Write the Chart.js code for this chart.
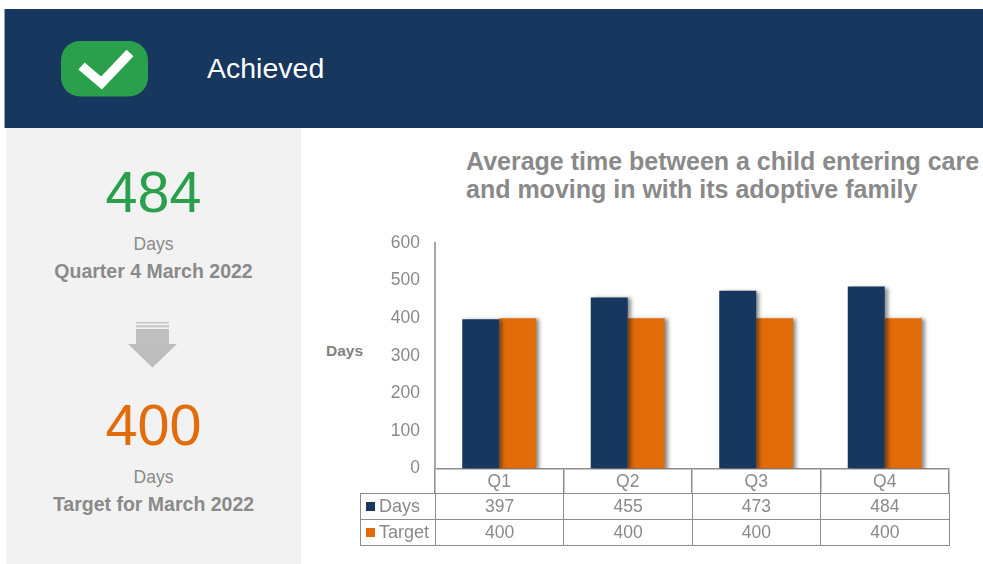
<!DOCTYPE html>
<html>
<head>
<meta charset="utf-8">
<script src="https://cdn.jsdelivr.net/npm/chart.js@4"></script>
<style>
  html, body { margin: 0; padding: 0; background: #fff; }
  body { width: 983px; height: 564px; overflow: hidden; position: relative; font-family: "Liberation Sans", Arial, sans-serif; }
  .abs { position: absolute; }
  #header { left: 4px; top: 9px; width: 979px; height: 119px; background: #17375e; border-left: 1px solid #8fa3bd; box-sizing: border-box; }
  #panel { left: 6px; top: 128px; width: 295px; height: 436px; background: #f2f2f2; }
  #achieved { left: 207px; top: 51px; font-size: 28.5px; line-height: 34px; color: #fff; }
  .ctr { left: 6px; width: 295px; text-align: center; white-space: nowrap; }
  .big { font-size: 57.5px; line-height: 64px; }
  .small { font-size: 17.5px; line-height: 20px; color: #8a8a8a; }
  .bold { font-size: 19.5px; line-height: 22px; font-weight: bold; color: #8a8a8a; }
  #title { left: 466px; top: 147px; font-size: 25px; line-height: 28px; font-weight: bold; color: #8a8a8a; white-space: nowrap; }
  #ytitle { left: 326px; top: 342px; font-size: 15.5px; line-height: 18px; font-weight: bold; color: #808080; }
  #wrap { left: 0; top: 0; width: 983px; height: 564px; }
  #tbl { left: 360px; top: 493px; border-collapse: collapse; table-layout: fixed; width: 589.5px; color: #8a8a8a; font-size: 17.5px; }
  #tbl tr { height: 26px; }
  #tbl td { border: 1.5px solid #8c8c8c; padding: 0 0 2px 0; text-align: center; line-height: 18px; box-sizing: border-box; }
  #tbl td.k { text-align: left; white-space: nowrap; width: 75px; padding-left: 5px; font-size: 18px; }
  #tbl .sw { display: inline-block; width: 9px; height: 9px; margin-right: 4px; vertical-align: 1px; }
</style>
</head>
<body>
<div class="abs" id="panel"></div>
<div class="abs" id="header"></div>
<svg class="abs" style="left:61px;top:41px" width="88" height="56" viewBox="0 0 88 56">
  <rect x="0" y="0" width="87" height="55.5" rx="19" fill="#2aa04c"/>
  <path d="M20.5 25 L40.5 42 L69 12" fill="none" stroke="#fff" stroke-width="9.5"/>
</svg>
<div class="abs" id="achieved">Achieved</div>

<div class="abs ctr big" id="v1" style="top:160px;color:#2aa04c"></div>
<div class="abs ctr small" style="top:234px">Days</div>
<div class="abs ctr bold" style="top:260px">Quarter 4 March 2022</div>
<svg class="abs" style="left:128px;top:322px" width="50" height="46" viewBox="0 0 50 46">
  <rect x="8" y="0" width="33" height="1.5" fill="#c8c8c8"/>
  <rect x="8" y="3" width="33" height="2.5" fill="#cdcdcd"/>
  <rect x="8" y="7" width="33" height="15" fill="#c0c0c0"/>
  <path d="M0 22 L49 22 L24.5 45.5 Z" fill="#bdbdbd"/>
</svg>
<div class="abs ctr big" id="v2" style="top:393px;color:#e36c0a"></div>
<div class="abs ctr small" style="top:467px">Days</div>
<div class="abs ctr bold" style="top:493px">Target for March 2022</div>

<div class="abs" id="title">Average time between a child entering care<br>and moving in with its adoptive family</div>
<div class="abs" id="ytitle">Days</div>
<div class="abs" id="wrap"><canvas id="c" width="983" height="564"></canvas></div>
<table class="abs" id="tbl"></table>

<script>
const categories = ["Q1", "Q2", "Q3", "Q4"];
const daysValues = [397, 455, 473, 484];
const targetValues = [400, 400, 400, 400];
const seriesNames = ["Days", "Target"];
const seriesColors = ["#17375e", "#e36c0a"];

document.getElementById("v1").textContent = daysValues[3];
document.getElementById("v2").textContent = targetValues[3];

const tbl = document.getElementById("tbl");
[daysValues, targetValues].forEach((vals, i) => {
  const tr = document.createElement("tr");
  const k = document.createElement("td");
  k.className = "k";
  k.innerHTML = '<span class="sw" style="background:' + seriesColors[i] + '"></span>' + seriesNames[i];
  tr.appendChild(k);
  vals.forEach(v => { const td = document.createElement("td"); td.textContent = v; tr.appendChild(td); });
  tbl.appendChild(tr);
});

const barShadow = {
  id: "barShadow",
  beforeDatasetsDraw(chart) {
    const c = chart.ctx; c.save();
    c.shadowColor = "rgba(0,0,0,0.45)"; c.shadowBlur = 4; c.shadowOffsetX = 3; c.shadowOffsetY = 1;
  },
  afterDatasetsDraw(chart) { chart.ctx.restore(); }
};

new Chart(document.getElementById("c"), {
  type: "bar",
  data: {
    labels: categories,
    datasets: [
      { label: seriesNames[0], data: daysValues, backgroundColor: seriesColors[0] },
      { label: seriesNames[1], data: targetValues, backgroundColor: seriesColors[1] }
    ]
  },
  options: {
    responsive: false,
    animation: false,
    events: [],
    layout: { padding: { top: 243, right: 34, bottom: 70.5, left: 0 } },
    plugins: { legend: { display: false }, tooltip: { enabled: false }, title: { display: false } },
    datasets: { bar: { barPercentage: 1, categoryPercentage: 0.576 } },
    scales: {
      x: {
        afterFit(s) { s.height = 25; },
        border: { color: "#8c8c8c", width: 1.5 },
        grid: { drawOnChartArea: false, drawTicks: true, tickLength: 25, color: "#8c8c8c", lineWidth: 1.5 },
        ticks: { color: "#8a8a8a", font: { family: "Liberation Sans", size: 17.5 }, padding: -22, maxRotation: 0 }
      },
      y: {
        min: 0, max: 600,
        afterFit(s) { s.width = 435; },
        border: { color: "#a6a6a6", width: 2 },
        grid: { display: false, drawTicks: false },
        ticks: { stepSize: 100, color: "#8a8a8a", font: { family: "Liberation Sans", size: 17.5 }, padding: 15 }
      }
    }
  },
  plugins: [barShadow]
});
</script>
</body>
</html>
